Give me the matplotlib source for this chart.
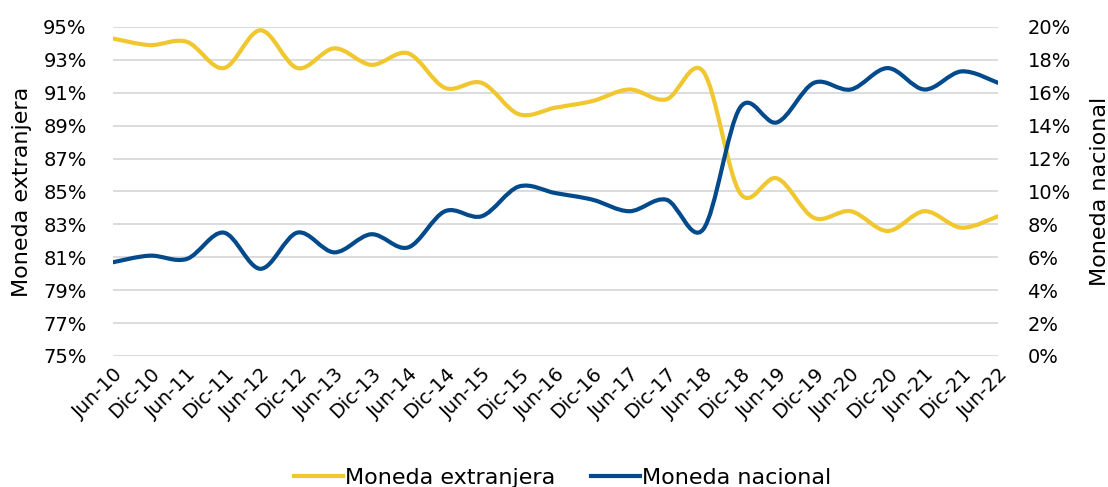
import numpy as np
import matplotlib
matplotlib.use("Agg")
import matplotlib.pyplot as plt
from matplotlib.path import Path
from matplotlib.patches import PathPatch
from matplotlib.lines import Line2D

# data
periods = ["Jun-10", "Dic-10", "Jun-11", "Dic-11", "Jun-12", "Dic-12", "Jun-13",
           "Dic-13", "Jun-14", "Dic-14", "Jun-15", "Dic-15", "Jun-16", "Dic-16",
           "Jun-17", "Dic-17", "Jun-18", "Dic-18", "Jun-19", "Dic-19", "Jun-20",
           "Dic-20", "Jun-21", "Dic-21", "Jun-22"]
moneda_extranjera = [94.3, 93.9, 94.1, 92.5, 94.8, 92.5, 93.7, 92.7, 93.4, 91.3,
                     91.6, 89.7, 90.1, 90.5, 91.2, 90.6, 92.3, 84.9, 85.8, 83.4,
                     83.8, 82.6, 83.8, 82.8, 83.5]
moneda_nacional = [5.7, 6.1, 5.9, 7.5, 5.3, 7.5, 6.3, 7.4, 6.6, 8.8,
                   8.5, 10.3, 9.9, 9.5, 8.8, 9.5, 7.7, 15.1, 14.2, 16.6,
                   16.2, 17.5, 16.2, 17.3, 16.6]

YELLOW = "#F0C72E"
BLUE = "#034A8C"

plt.rcParams["font.family"] = "DejaVu Sans"


def smooth_path(x, y):
    # Catmull-Rom style bezier, like a spreadsheet "smoothed line"
    x = np.asarray(x, dtype=float)
    y = np.asarray(y, dtype=float)
    px = np.concatenate([[x[0]], x, [x[-1]]])
    py = np.concatenate([[y[0]], y, [y[-1]]])
    verts = [(x[0], y[0])]
    codes = [Path.MOVETO]
    for i in range(1, len(x)):
        c1 = (px[i] + (px[i + 1] - px[i - 1]) / 6, py[i] + (py[i + 1] - py[i - 1]) / 6)
        c2 = (px[i + 1] - (px[i + 2] - px[i]) / 6, py[i + 1] - (py[i + 2] - py[i]) / 6)
        verts += [c1, c2, (px[i + 1], py[i + 1])]
        codes += [Path.CURVE4] * 3
    return Path(verts, codes)


fig = plt.figure(figsize=(11.08, 4.87), dpi=100)
ax = fig.add_axes([0.102, 0.269, 0.799, 0.6756])
ax2 = ax.twinx()

xs = np.arange(len(periods))

ax.add_patch(PathPatch(smooth_path(xs, moneda_extranjera), fill=False,
                       edgecolor=YELLOW, lw=3, capstyle="round", zorder=3))
ax2.add_patch(PathPatch(smooth_path(xs, moneda_nacional), fill=False,
                        edgecolor=BLUE, lw=3, capstyle="round", zorder=3))

ax.set_xlim(0, len(periods) - 1)
ax.set_ylim(75, 95)
ax2.set_ylim(0, 20)
ax.set_yticks(np.arange(75, 96, 2))
ax.set_yticklabels([f"{v}%" for v in range(75, 96, 2)])
ax2.set_yticks(np.arange(0, 21, 2))
ax2.set_yticklabels([f"{v}%" for v in range(0, 21, 2)])
ax.set_xticks(xs)
ax.set_xticklabels(periods, rotation=45, ha="right", rotation_mode="anchor")

ax.grid(axis="y", color="#D9D9D9", lw=1.3)
ax.set_axisbelow(True)
for a in (ax, ax2):
    for s in a.spines.values():
        s.set_visible(False)
    a.tick_params(length=0, labelsize=14, colors="black")
ax.tick_params(axis="y", pad=19)
ax2.tick_params(axis="y", pad=21)
ax.tick_params(axis="x", pad=6)

ax.set_ylabel("Moneda extranjera", fontsize=16)
ax.yaxis.set_label_coords(-0.0915, 0.5)
ax2.set_ylabel("Moneda nacional", fontsize=16, rotation=90)
ax2.yaxis.set_label_coords(1.1036, 0.5)

handles = [Line2D([], [], color=YELLOW, lw=3),
           Line2D([], [], color=BLUE, lw=3)]
fig.legend(handles, ["Moneda extranjera", "Moneda nacional"], loc="center",
           bbox_to_anchor=(0.508, 0.018), ncol=2, frameon=False, fontsize=16,
           handlelength=2.2, handletextpad=0.1, columnspacing=1.6)

fig.savefig("out.png", dpi=100)
